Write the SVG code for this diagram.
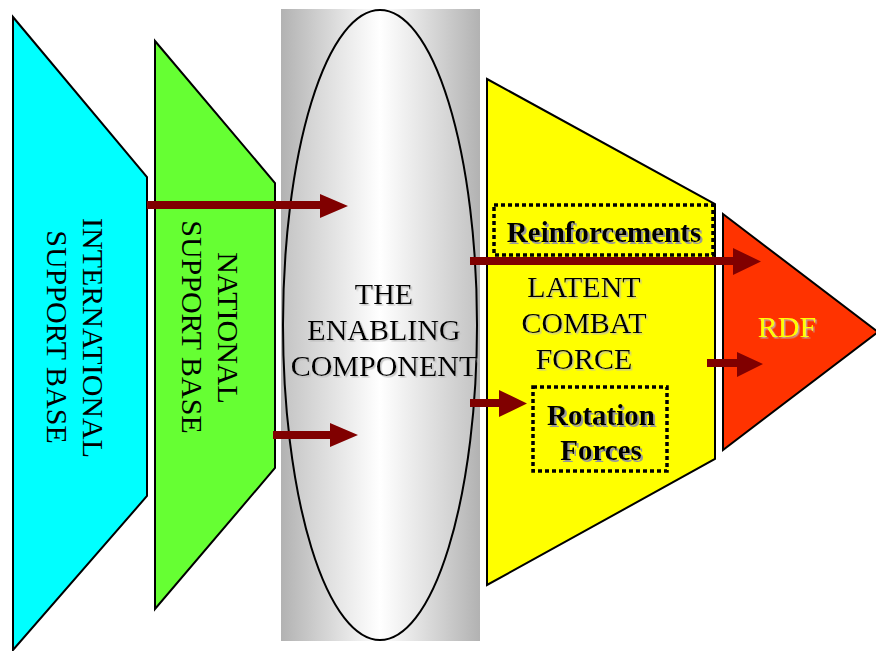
<svg xmlns="http://www.w3.org/2000/svg" width="876" height="651" viewBox="0 0 876 651">
<defs>
<linearGradient id="cyl" x1="0" y1="0" x2="1" y2="0">
<stop offset="0" stop-color="#b2b2b2"/>
<stop offset="0.5" stop-color="#ffffff"/>
<stop offset="1" stop-color="#b2b2b2"/>
</linearGradient>
<linearGradient id="ell" x1="0" y1="0" x2="1" y2="0">
<stop offset="0" stop-color="#c4c4c4"/>
<stop offset="0.5" stop-color="#ffffff"/>
<stop offset="1" stop-color="#c4c4c4"/>
</linearGradient>
<filter id="sh" x="-10%" y="-20%" width="130%" height="150%">
<feDropShadow dx="2" dy="2" stdDeviation="0.4" flood-color="#999999" flood-opacity="1"/>
</filter>
<filter id="sl" x="-10%" y="-20%" width="130%" height="150%">
<feDropShadow dx="1.5" dy="1.5" stdDeviation="0.3" flood-color="#b8b8b8" flood-opacity="0.8"/>
</filter>
</defs>
<style>
.shape{stroke:#000;stroke-width:2;stroke-linejoin:miter}
.t{font-family:"Liberation Serif","Times New Roman",serif;font-size:30px;fill:#000;text-anchor:middle}
.b{font-weight:bold;font-size:29px}
.dot{fill:none;stroke:#000;stroke-width:3.5;stroke-dasharray:4 3}
.arr{fill:#800000;stroke:none}
</style>

<g id="international">
<polygon class="shape" fill="#00ffff" points="13,17 147,177 147,496 13,650"/>
<text class="t" transform="translate(83,338) rotate(90)">INTERNATIONAL</text>
<text class="t" transform="translate(47,337) rotate(90)">SUPPORT BASE</text>
</g>

<g id="national">
<polygon class="shape" fill="#66ff33" points="155,41 275,183 275,468 155,609"/>
<text class="t" transform="translate(218,328) rotate(90)">NATIONAL</text>
<text class="t" transform="translate(182,327) rotate(90)">SUPPORT BASE</text>
</g>

<g id="enabling">
<rect x="281" y="9" width="199" height="632" fill="url(#cyl)"/>
<ellipse cx="380" cy="325" rx="97" ry="315" fill="url(#ell)" stroke="#000" stroke-width="2"/>
<g filter="url(#sl)">
<text class="t" x="384" y="304">THE</text>
<text class="t" x="384" y="340">ENABLING</text>
<text class="t" x="384" y="376">COMPONENT</text>
</g>
</g>

<g id="latent">
<polygon class="shape" fill="#ffff00" points="487,79 715,204 715,459 487,585"/>
<g filter="url(#sl)">
<text class="t" x="584" y="297">LATENT</text>
<text class="t" x="584" y="333">COMBAT</text>
<text class="t" x="584" y="369">FORCE</text>
</g>
</g>

<g id="reinforcements">
<rect class="dot" x="494" y="205" width="219" height="50"/>
<text class="t b" x="604" y="242" filter="url(#sh)">Reinforcements</text>
</g>

<g id="rotation">
<rect class="dot" x="533" y="387" width="134" height="84"/>
<g filter="url(#sh)">
<text class="t b" x="601" y="425">Rotation</text>
<text class="t b" x="601" y="460">Forces</text>
</g>
</g>

<g id="rdf">
<polygon class="shape" fill="#ff3300" points="723,214 878,332 723,450"/>
<text class="t" x="787" y="337" style="fill:#ffff00" filter="url(#sl)">RDF</text>
</g>

<g id="connectors">
<polygon class="arr" points="147,201 320,201 320,194 348,206 320,218 320,209 147,209"/>
<polygon class="arr" points="273,431 330,431 330,423 358,435 330,447 330,439 273,439"/>
<polygon class="arr" points="470,257 733,257 733,248 761,261.5 733,275 733,265 470,265"/>
<polygon class="arr" points="707,359 737,359 737,352 763,364 737,377 737,367 707,367"/>
<polygon class="arr" points="470,399 499,399 499,390 527,403.5 499,417 499,407 470,407"/>
</g>
</svg>
